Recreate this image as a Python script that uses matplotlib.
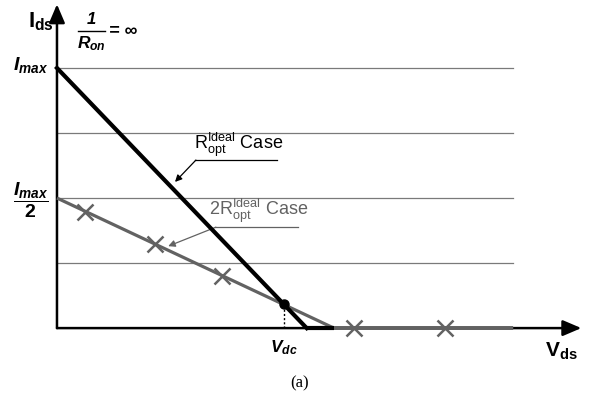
import matplotlib
matplotlib.use('Agg')
import matplotlib.pyplot as plt

plt.rcParams.update({
    'font.family': 'Liberation Sans',
    'mathtext.fontset': 'custom',
    'mathtext.rm': 'Liberation Sans',
    'mathtext.it': 'Liberation Sans:italic:bold',
    'mathtext.bf': 'Liberation Sans:bold',
})

# normalised units: Imax = 1, Vdc = 1
grid_levels = [0.25, 0.5, 0.75, 1.0]
grid_end = 2.01

ropt_v = [0.0, 1.10, 1.22]
ropt_i = [1.0, 0.0, 0.0]

ropt2_v = [0.0, 1.22, 2.01]
ropt2_i = [0.5, 0.0, 0.0]

mark_v = [0.123, 0.43, 0.727, 1.31, 1.71]
mark_i = [0.446, 0.324, 0.202, 0.0, 0.0]

vdc_point = (1.0, 0.093)

GRAY = '#626262'

fig = plt.figure(figsize=(5.92, 4.03), dpi=100)
ax = fig.add_axes([0, 0, 1, 1])
ax.set_xlim(-0.251, 2.357)
ax.set_ylim(-0.288, 1.2615)
ax.axis('off')

# grid lines
for g in grid_levels:
    ax.plot([0, grid_end], [g, g], color='#7a7a7a', lw=0.9, zorder=1)

# axes with arrows
arrow_kw = dict(arrowstyle='-|>,head_length=0.75,head_width=0.32',
                color='black', lw=1.8, mutation_scale=15,
                shrinkA=0, shrinkB=0)
ax.annotate('', xy=(2.31, 0), xytext=(0, 0), arrowprops=arrow_kw, zorder=2)
ax.annotate('', xy=(0, 1.245), xytext=(0, 0), arrowprops=arrow_kw, zorder=2)

# load lines
ax.plot(ropt2_v, ropt2_i, color=GRAY, lw=2.3, zorder=3, solid_capstyle='butt')
ax.plot(ropt_v[:2], ropt_i[:2], color='black', lw=3.0, zorder=4)
ax.plot(ropt_v[1:], ropt_i[1:], color='black', lw=3.0, zorder=3,
        solid_capstyle='butt')
ax.plot(ropt2_v[1:], ropt2_i[1:], color=GRAY, lw=2.8, zorder=4,
        solid_capstyle='butt')
ax.plot(mark_v, mark_i, linestyle='none', marker='x', color=GRAY,
        markersize=11, mew=1.8, zorder=5)

# Vdc point
ax.plot([vdc_point[0], vdc_point[0]], [0, vdc_point[1]], color='black',
        lw=1.0, linestyle=(0, (1.5, 1.5)), zorder=4)
ax.plot(*vdc_point, marker='o', color='black', markersize=6.5, zorder=6)

# labels
ax.text(-0.07, 1.177, r'$\mathbf{I}_{\mathbf{ds}}$', fontsize=16,
        ha='center', va='center')
ax.text(2.22, -0.09, r'$\mathbf{V}_{\mathbf{ds}}$', fontsize=15,
        ha='center', va='center')
ax.text(-0.194, 1.01, r'$I_{max}$', fontsize=14, ha='left', va='center')
ax.text(-0.194, 0.49, r'$\dfrac{I_{max}}{\mathbf{2}}$', fontsize=14,
        ha='left', va='center')

# 1 / R_on = inf, drawn as a stacked fraction
ax.text(0.152, 1.185, '1', fontsize=12, fontweight='bold', style='italic',
        ha='center', va='center')
ax.plot([0.093, 0.211], [1.143, 1.143], color='black', lw=1.0)
ax.text(0.152, 1.095, r'$R_{on}$', fontsize=12.5, ha='center', va='center')
ax.text(0.228, 1.14, '= ∞', fontsize=13, fontweight='bold', style='italic',
        ha='left', va='center')

ax.text(1.0, -0.077, r'$V_{dc}$', fontsize=12.5, ha='center', va='center')
ax.text(1.07, -0.212, '(a)', fontsize=12, family='Liberation Serif',
        ha='center', va='center')

# callouts
ax.text(0.603, 0.705, r'$\mathrm{R}^{\mathrm{Ideal}}_{\mathrm{opt}}$ Case',
        fontsize=13, ha='left', va='center')
ax.plot([0.608, 0.97], [0.646, 0.646], color='black', lw=0.9)
ax.annotate('', xy=(0.52, 0.562), xytext=(0.612, 0.646),
            arrowprops=dict(arrowstyle='-|>', color='black', lw=0.9,
                            mutation_scale=10, shrinkA=0, shrinkB=0))

ax.text(0.668, 0.45, r'2$\mathrm{R}^{\mathrm{Ideal}}_{\mathrm{opt}}$ Case',
        fontsize=13, color=GRAY, ha='left', va='center')
ax.plot([0.696, 1.06], [0.388, 0.388], color=GRAY, lw=0.9)
ax.annotate('', xy=(0.49, 0.315), xytext=(0.70, 0.388),
            arrowprops=dict(arrowstyle='-|>', color=GRAY, lw=0.9,
                            mutation_scale=10, shrinkA=0, shrinkB=0))

fig.savefig('out.png', dpi=100, facecolor='white')
